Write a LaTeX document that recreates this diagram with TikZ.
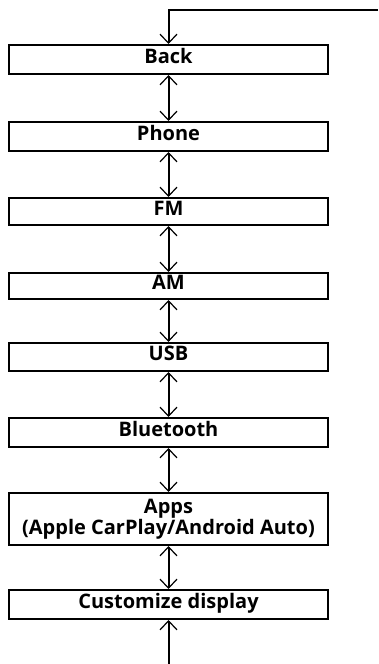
\documentclass[tikz,border=0pt]{standalone}
\usepackage{fontspec}
\setmainfont{Open Sans}
\usetikzlibrary{arrows.meta}

\begin{document}
\begin{tikzpicture}[
  x=1pt,y=-1pt,
  font=\bfseries\fontsize{20}{21}\selectfont,
  menu/.style={draw=black,line width=2pt,anchor=north,minimum width=319pt,
    inner ysep=1.5pt,text height=15pt,text depth=8pt},
  twoline/.style={draw=black,line width=2pt,anchor=north,minimum width=319pt,
    align=center,inner ysep=2pt},
  wire/.style={draw=black,line width=2pt},
  tip/.style={wire,-{Straight Barb[length=9pt,width=17pt,line width=1.2pt]}},
  both/.style={wire,{Straight Barb[length=9pt,width=17pt,line width=1.2pt]}-{Straight Barb[length=9pt,width=17pt,line width=1.2pt]}}
]
\useasboundingbox (0,0) rectangle (378,664);

% menu entries, top to bottom
\node[menu,minimum height=29pt] (back) at (168.5,44) {Back};
\node[menu,minimum height=29pt] (phone) at (168.5,121) {Phone};
\node[menu,minimum height=27pt] (fm) at (168.5,197) {FM};
\node[menu,minimum height=25pt] (am) at (168.5,272) {AM};
\node[menu,minimum height=28pt] (usb) at (168.5,342) {USB};
\node[menu,minimum height=29pt] (bt) at (168.5,417) {Bluetooth};
\node[twoline,minimum height=52pt] (apps) at (168.5,492) {Apps\\(Apple CarPlay/Android Auto)};
\node[menu,minimum height=29pt] (custom) at (168.5,589) {Customize display};

% loop in from the right, out at the bottom
\coordinate (entry) at (378,10);
\coordinate (exit) at (168.5,664);
\draw[tip] (entry) -| (back.north);
\draw[tip] (exit) -- (custom.south);

% scrolling between neighbours
\draw[both] (back.south) -- (phone.north);
\draw[both] (phone.south) -- (fm.north);
\draw[both] (fm.south) -- (am.north);
\draw[both] (am.south) -- (usb.north);
\draw[both] (usb.south) -- (bt.north);
\draw[both] (bt.south) -- (apps.north);
\draw[both] (apps.south) -- (custom.north);
\end{tikzpicture}
\end{document}
